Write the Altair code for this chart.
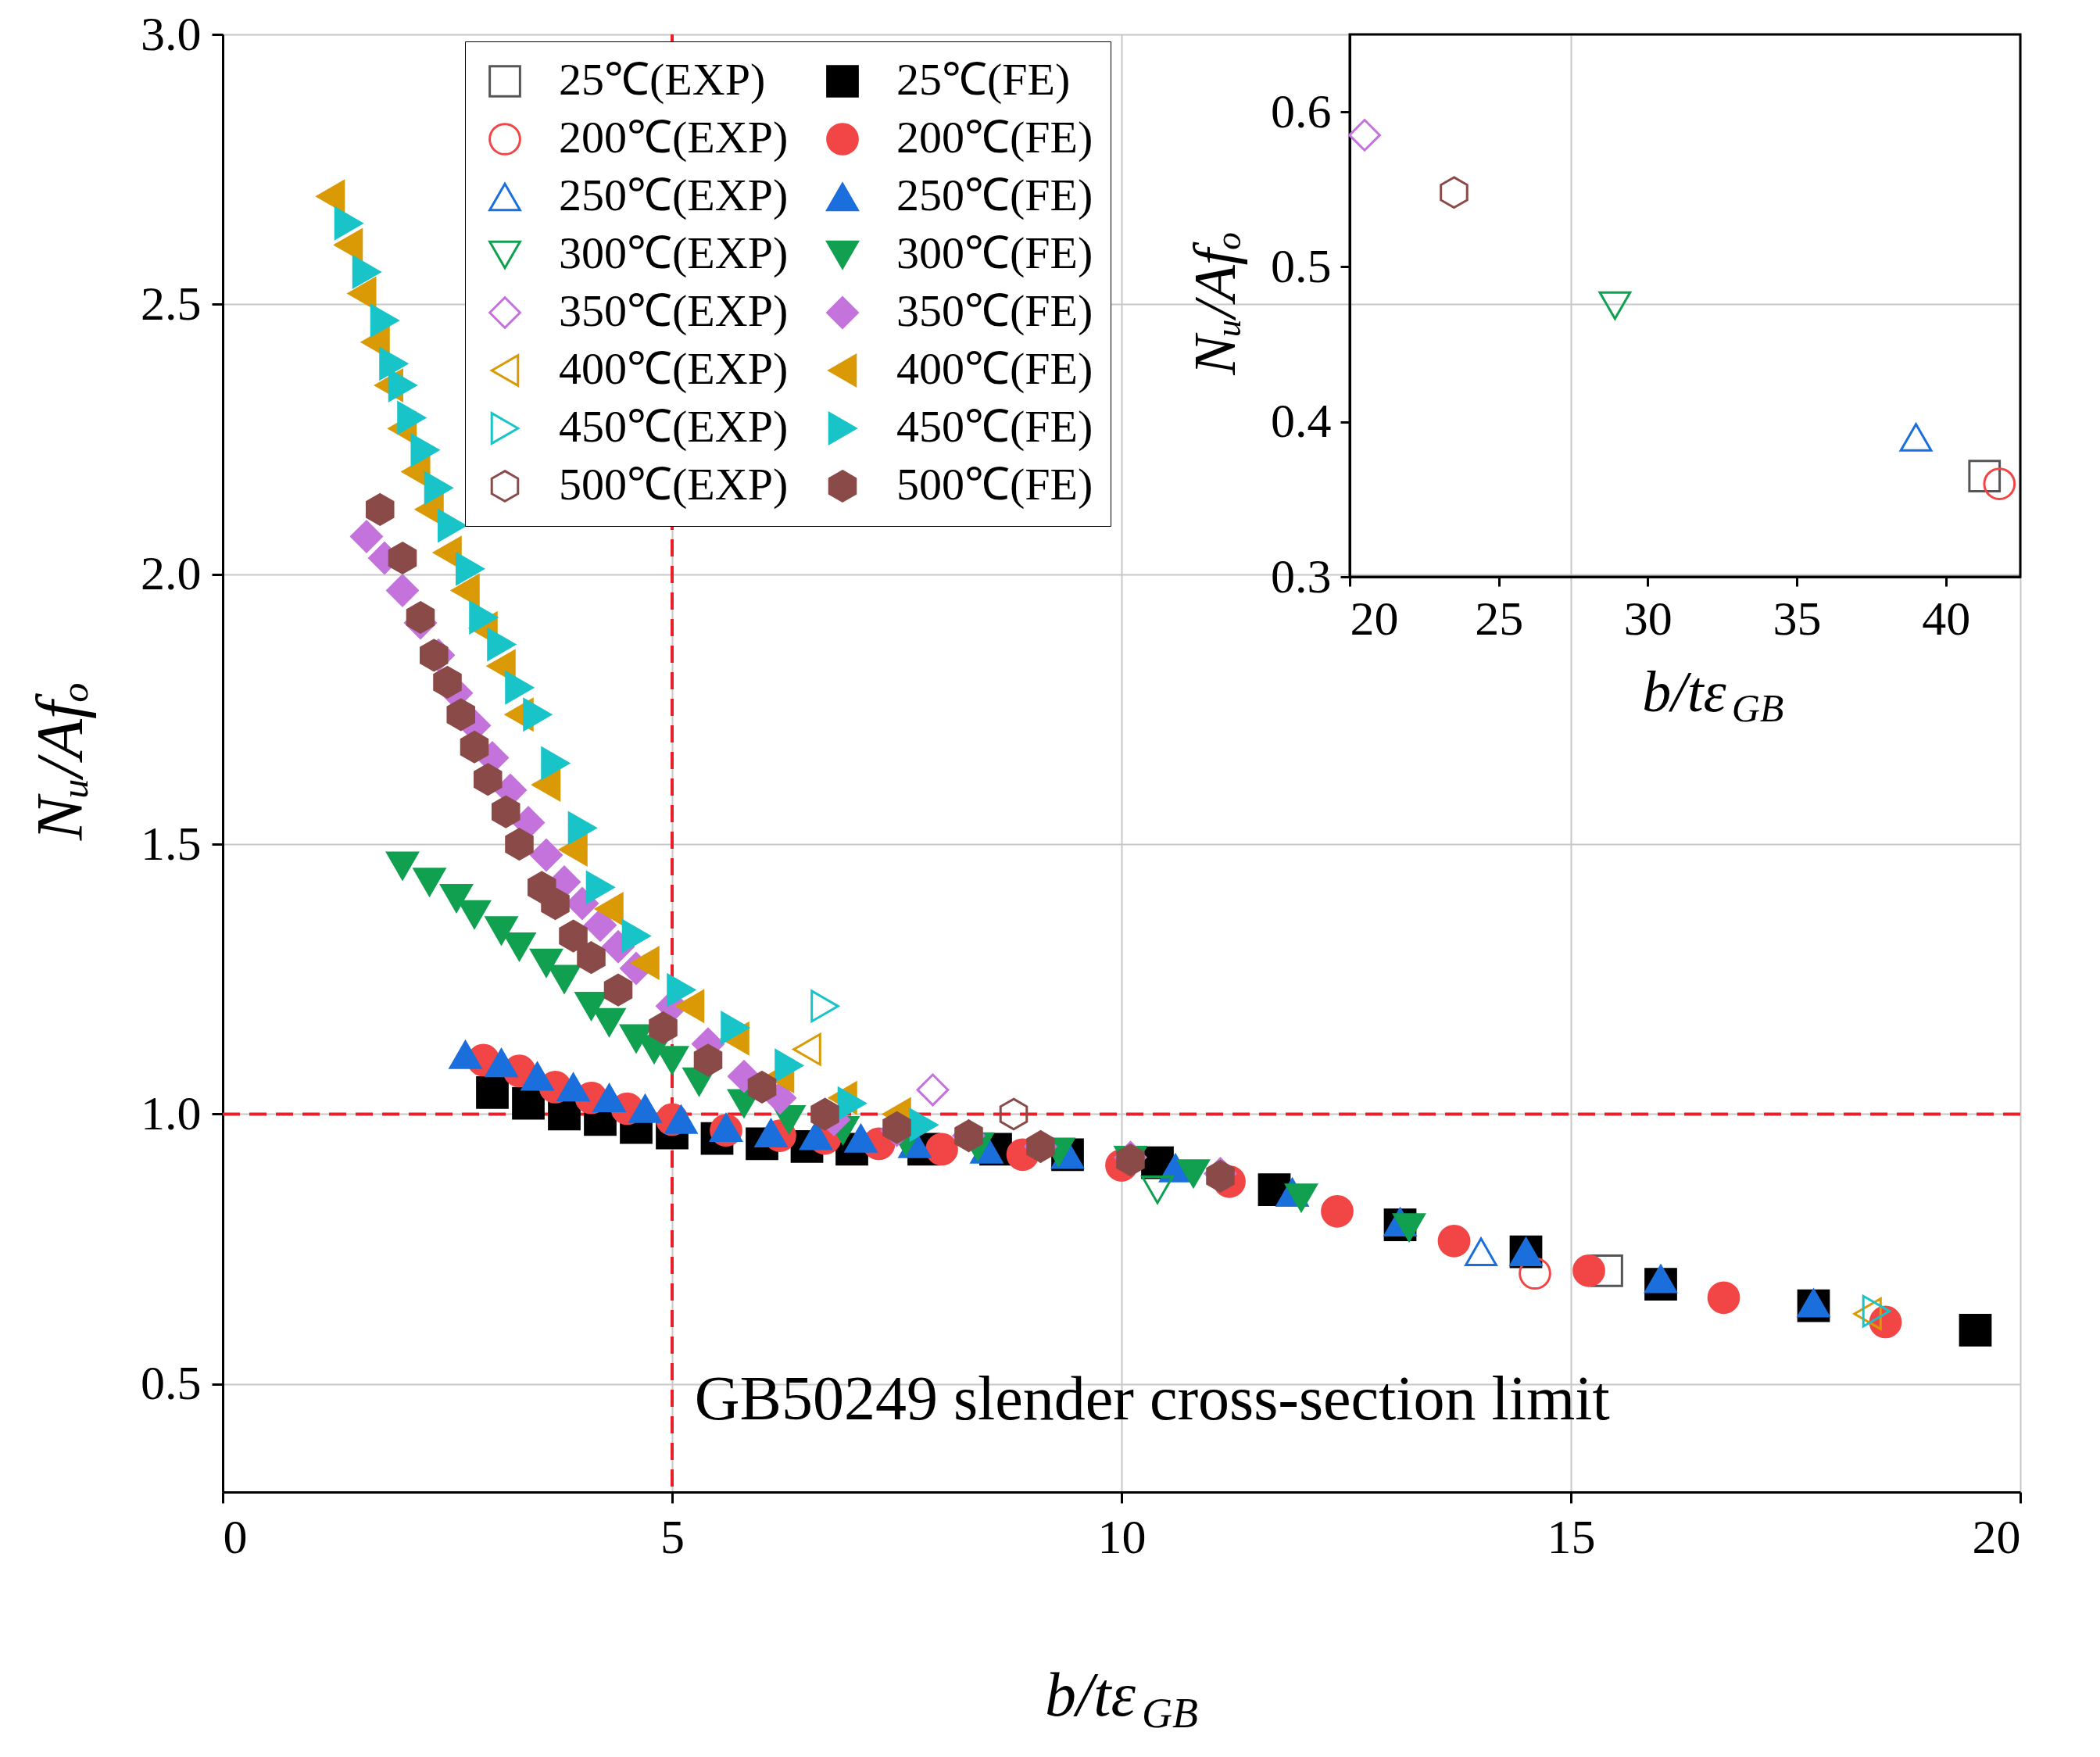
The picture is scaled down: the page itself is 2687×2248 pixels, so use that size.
import altair as alt
import pandas as pd

# --- data ---
temps = ['25', '200', '250', '300', '350', '400', '450', '500']

fe_x = {
    '25': [3.0, 3.4, 3.8, 4.2, 4.6, 5.0, 5.5, 6.0, 6.5, 7.0, 7.8, 8.6, 9.4, 10.4, 11.7, 13.1, 14.5, 16.0, 17.7, 19.5],
    '200': [2.9, 3.3, 3.7, 4.1, 4.5, 5.0, 5.6, 6.2, 6.7, 7.3, 8.0, 8.9, 10.0, 11.2, 12.4, 13.7, 15.2, 16.7, 18.5],
    '250': [2.7, 3.1, 3.5, 3.9, 4.3, 4.7, 5.1, 5.6, 6.1, 6.6, 7.1, 7.7, 8.5, 9.4, 10.6, 11.9, 13.1, 14.5, 16.0, 17.7],
    '300': [2.0, 2.3, 2.6, 2.8, 3.1, 3.3, 3.6, 3.8, 4.1, 4.3, 4.6, 4.8, 5.0, 5.3, 5.8, 6.3, 6.9, 7.6, 8.4, 9.3, 10.1, 10.8, 12.0, 13.2],
    '350': [1.6, 1.8, 2.0, 2.2, 2.4, 2.6, 2.8, 3.0, 3.2, 3.4, 3.6, 3.8, 4.0, 4.2, 4.4, 4.6, 5.0, 5.4, 5.8, 6.2, 6.8, 7.5, 8.3, 9.1, 10.1, 11.1],
    '400': [1.2, 1.4, 1.55, 1.7, 1.85, 2.0, 2.15, 2.3, 2.5, 2.7, 2.9, 3.1, 3.3, 3.6, 3.9, 4.3, 4.7, 5.2, 5.7, 6.2, 6.9, 7.5],
    '450': [1.4, 1.6, 1.8, 1.9, 2.0, 2.1, 2.25, 2.4, 2.55, 2.75, 2.9, 3.1, 3.3, 3.5, 3.7, 4.0, 4.2, 4.6, 5.1, 5.7, 6.3, 7.0, 7.8],
    '500': [1.75, 2.0, 2.2, 2.35, 2.5, 2.65, 2.8, 2.95, 3.15, 3.3, 3.55, 3.7, 3.9, 4.1, 4.4, 4.9, 5.4, 6.0, 6.7, 7.5, 8.3, 9.1, 10.1, 11.1],
}
fe_y = {
    '25': [1.04, 1.02, 1.0, 0.99, 0.975, 0.965, 0.955, 0.945, 0.94, 0.935, 0.935, 0.935, 0.925, 0.91, 0.86, 0.795, 0.745, 0.685, 0.645, 0.6],
    '200': [1.1, 1.08, 1.05, 1.03, 1.01, 0.99, 0.97, 0.96, 0.955, 0.945, 0.935, 0.925, 0.905, 0.875, 0.82, 0.765, 0.71, 0.66, 0.615],
    '250': [1.11, 1.095, 1.07, 1.05, 1.03, 1.01, 0.99, 0.975, 0.965, 0.96, 0.955, 0.945, 0.935, 0.925, 0.9, 0.855, 0.8, 0.745, 0.695, 0.65],
    '300': [1.46, 1.43, 1.4, 1.37, 1.34, 1.31, 1.28, 1.25, 1.2, 1.17, 1.14, 1.12, 1.1, 1.06, 1.02, 0.99, 0.97, 0.95, 0.94, 0.93, 0.915, 0.89, 0.845, 0.79],
    '350': [2.07, 2.03, 1.97, 1.91, 1.85, 1.78, 1.72, 1.66, 1.6, 1.54, 1.48, 1.43, 1.39, 1.35, 1.31, 1.27, 1.2, 1.13, 1.07, 1.03, 0.99, 0.97, 0.96, 0.94, 0.92, 0.89],
    '400': [2.7, 2.61, 2.52, 2.43, 2.35, 2.27, 2.19, 2.12, 2.04, 1.97, 1.9, 1.83, 1.74, 1.61, 1.49, 1.38, 1.28, 1.2, 1.14, 1.07, 1.03, 1.0],
    '450': [2.65, 2.56, 2.47, 2.39, 2.35, 2.29, 2.23, 2.16, 2.09, 2.01, 1.92, 1.87, 1.79, 1.74, 1.65, 1.53, 1.42, 1.33, 1.23, 1.16, 1.09, 1.02, 0.98],
    '500': [2.12, 2.03, 1.92, 1.85, 1.8, 1.74, 1.68, 1.62, 1.56, 1.5, 1.42, 1.39, 1.33, 1.29, 1.23, 1.16, 1.1, 1.05, 1.0, 0.975, 0.96, 0.94, 0.915, 0.885],
}
exp_x = {'25': [15.4], '200': [14.6], '250': [14.0], '300': [10.4], '350': [7.9],
         '400': [6.5, 18.3], '450': [6.7, 18.4], '500': [8.8]}
exp_y = {'25': [0.71], '200': [0.705], '250': [0.745], '300': [0.86], '350': [1.045],
         '400': [1.12, 0.63], '450': [1.2, 0.635], '500': [1.0]}
inset_x = {'25': [41.3], '200': [41.8], '250': [39.0], '300': [28.9], '350': [20.5], '500': [23.5]}
inset_y = {'25': [0.365], '200': [0.36], '250': [0.39], '300': [0.475], '350': [0.585], '500': [0.548]}

limit_x = [5]
limit_y = [1]

fe_colors = ['#000000', '#f24545', '#1a6fdc', '#10a050', '#c472dc', '#d99a05', '#18c4c8', '#8a4a48']
exp_colors = ['#555555', '#f24545', '#1a6fdc', '#10a050', '#c472dc', '#d99a05', '#18c4c8', '#8a4a48']
hexagon = 'M0,-1L0.866,-0.5L0.866,0.5L0,1L-0.866,0.5L-0.866,-0.5Z'
shapes = ['square', 'circle', 'triangle-up', 'triangle-down', 'diamond', 'triangle-left', 'triangle-right', hexagon]

# legend fills column by column: EXP column, then FE column
domain, strokes, fills, shp = [], [], [], []
for i, t in enumerate(temps):
    domain.append(f'{t}℃(EXP)'); strokes.append(exp_colors[i]); fills.append('transparent'); shp.append(shapes[i])
for i, t in enumerate(temps):
    domain.append(f'{t}℃(FE)'); strokes.append(fe_colors[i]); fills.append(fe_colors[i]); shp.append(shapes[i])

rows = []
for t in temps:
    for x, y in zip(fe_x[t], fe_y[t]):
        rows.append({'label': f'{t}℃(FE)', 'x': x, 'y': y})
    for x, y in zip(exp_x[t], exp_y[t]):
        rows.append({'label': f'{t}℃(EXP)', 'x': x, 'y': y})
df_main = pd.DataFrame(rows)
df_inset = pd.DataFrame([{'label': f'{t}℃(EXP)', 'x': x, 'y': y}
                         for t in inset_x for x, y in zip(inset_x[t], inset_y[t])])

FONT = 'Liberation Serif'
W, H = 2300, 1865
IX0, IY1 = 1442, 694

stroke_enc = alt.Stroke('label:N', scale=alt.Scale(domain=domain, range=strokes), legend=None)
fill_enc = alt.Fill('label:N', scale=alt.Scale(domain=domain, range=fills), legend=None)
shape_enc = alt.Shape('label:N', scale=alt.Scale(domain=domain, range=shp), legend=None)

legend = alt.Legend(title=None, orient='none', legendX=310, legendY=9, columns=2,
                    labelFont=FONT, labelFontSize=58, symbolSize=1500, symbolStrokeWidth=3,
                    labelOffset=40, columnPadding=40, rowPadding=16, padding=22,
                    fillColor='white', strokeColor='black', labelLimit=600)

ax_style = dict(title=None, labelFont=FONT, labelFontSize=62, labelPadding=14, tickSize=14, tickWidth=3,
                domainWidth=3, domainColor='black', tickColor='black', labelColor='black',
                gridColor='#c8c8c8', gridWidth=2)
x_main = alt.X('x:Q', scale=alt.Scale(domain=[0, 20], nice=False, zero=False),
               axis=alt.Axis(values=[0, 5, 10, 15, 20], format='d', **ax_style))
y_main = alt.Y('y:Q', scale=alt.Scale(domain=[0.3, 3.0], nice=False, zero=False),
               axis=alt.Axis(values=[0.5, 1.0, 1.5, 2.0, 2.5, 3.0], format='.1f', **ax_style))

points = alt.Chart(df_main).mark_point(filled=True, size=1500, strokeWidth=3, opacity=1).encode(
    x=x_main, y=y_main,
    stroke=alt.Stroke('label:N', scale=alt.Scale(domain=domain, range=strokes), legend=legend),
    fill=alt.Fill('label:N', scale=alt.Scale(domain=domain, range=fills), legend=legend),
    shape=alt.Shape('label:N', scale=alt.Scale(domain=domain, range=shp), legend=legend),
)

vline = alt.Chart(pd.DataFrame({'x': limit_x})).mark_rule(color='#e8202a', strokeWidth=4, strokeDash=[22, 12]).encode(x=x_main)
hline = alt.Chart(pd.DataFrame({'y': limit_y})).mark_rule(color='#e8202a', strokeWidth=4, strokeDash=[22, 12]).encode(y=y_main)
note = alt.Chart(pd.DataFrame({'x': [5.25], 'y': [0.47], 't': ['GB50249 slender cross-section limit']})).mark_text(
    align='left', baseline='middle', font=FONT, fontSize=80, color='black').encode(x=x_main, y=y_main, text='t:N')

title_df = pd.DataFrame({'a': [0]})
def label(text, x, y, size, angle=0, italic=True):
    return alt.Chart(title_df).mark_text(font=FONT, fontSize=size, fontStyle='italic' if italic else 'normal',
                                         angle=angle, align='center', baseline='middle', color='black').encode(
        x=alt.value(x), y=alt.value(y), text=alt.value(text))

main = alt.layer(vline, hline, points, note)

in_style = dict(title=None, grid=False, labelFont=FONT, labelFontSize=62, labelPadding=12, tickSize=12,
                tickWidth=3, domainWidth=3, domainColor='black', tickColor='black', labelColor='black')
xi = alt.X('x:Q', scale=alt.Scale(domain=[20, 42.5], nice=False, zero=False, range=[IX0, W]),
           axis=alt.Axis(orient='bottom', offset=IY1 - H, values=[20, 25, 30, 35, 40], format='d', **in_style))
yi = alt.Y('y:Q', scale=alt.Scale(domain=[0.3, 0.65], nice=False, zero=False, range=[IY1, 0]),
           axis=alt.Axis(orient='left', offset=-IX0, values=[0.3, 0.4, 0.5, 0.6], format='.1f', **in_style))
inset_pts = alt.Chart(df_inset).mark_point(filled=True, size=1500, strokeWidth=3, opacity=1).encode(
    x=xi, y=yi, stroke=stroke_enc, fill=fill_enc, shape=shape_enc)
frame = alt.Chart(title_df).mark_rect(fill='transparent', stroke='black', strokeWidth=3).encode(
    x=alt.value(IX0), x2=alt.value(W), y=alt.value(0), y2=alt.value(IY1))
inset = alt.layer(frame, inset_pts)

titles = alt.layer(
    label('b/tε', 1110, 2127, 80), label('GB', 1212, 2150, 54),
    label('Nᵤ/Afₒ', -205, 930, 84, angle=270),
    label('b/tε', 1870, 844, 74), label('GB', 1964, 864, 50),
    label('Nᵤ/Afₒ', 1272, 344, 76, angle=270),
)

chart = alt.layer(main, inset, titles).resolve_scale(
    x='independent', y='independent', stroke='shared', fill='shared', shape='shared'
).properties(width=W, height=H, padding={'left': 30, 'top': 5, 'right': 20, 'bottom': 5}
).configure_view(stroke='black', strokeWidth=3).configure(background='white')

chart.save("out.html", embed_options={"renderer": "svg", "actions": False})
